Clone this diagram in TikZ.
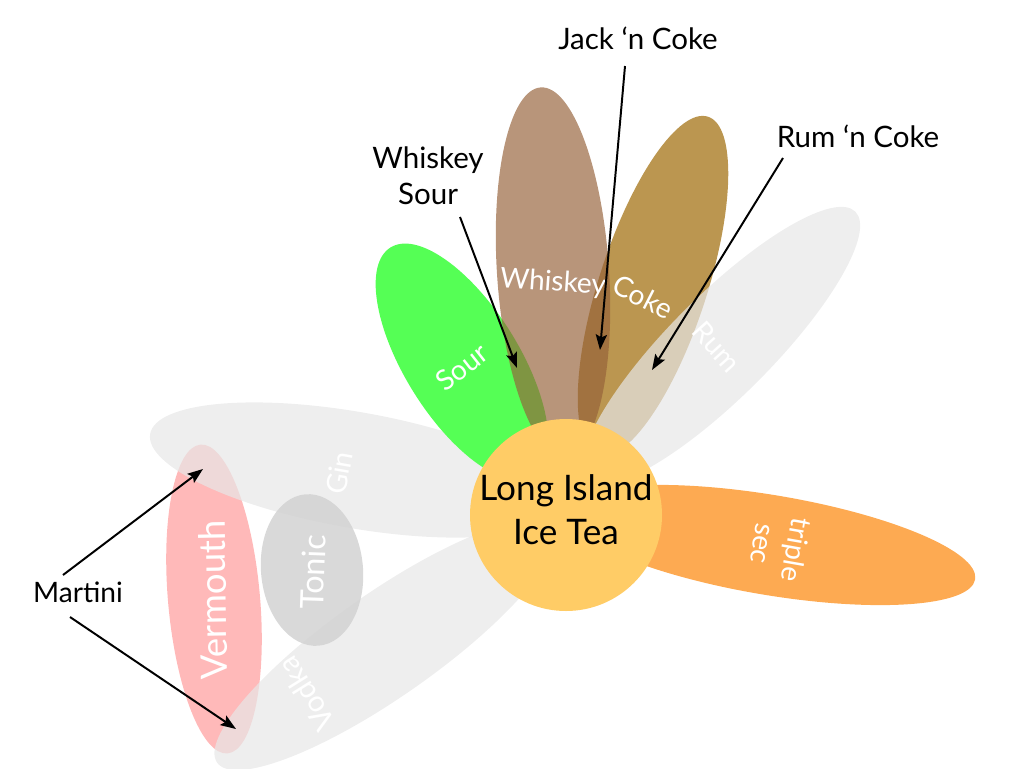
\documentclass[tikz,border=0pt]{standalone}
\usepackage{fontspec}
\setmainfont{Lato}
\usetikzlibrary{arrows.meta}
\definecolor{sourc}{RGB}{85,255,85}
\definecolor{whiskeyc}{RGB}{149,97,57}
\definecolor{cokec}{RGB}{187,150,80}
\definecolor{greyc}{RGB}{231,231,231}
\definecolor{vermouthc}{RGB}{255,185,185}
\definecolor{tonicc}{RGB}{212,212,212}
\definecolor{triplec}{RGB}{253,170,82}
\definecolor{teac}{RGB}{255,204,102}
\tikzset{
  petal/.style={fill=#1},
  greypetal/.style={fill=greyc, fill opacity=0.7},
  wlabel/.style={text=white, font=\fontsize{20}{24}\selectfont, inner sep=0pt},
  blabel/.style={text=black, font=\fontsize{21}{25.6}\selectfont, align=center, inner sep=0pt},
  pointer/.style={line width=1.4pt, -{Stealth[length=11pt,width=8pt,inset=2pt]}}
}
\begin{document}
\begin{tikzpicture}[x=0.25mm,y=0.25mm]
\useasboundingbox (0,0) rectangle (1024,-768);
% left group
\fill[petal=vermouthc, rotate around={95:(214,-599)}] (214,-599) ellipse [x radius=155, y radius=46];
\fill[greypetal, rotate around={-10:(355,-470)}] (355,-470) ellipse [x radius=208, y radius=58];
\fill[greypetal, rotate around={35:(385,-645)}] (385,-645) ellipse [x radius=205, y radius=52];
\fill[tonicc, fill opacity=0.88, rotate around={95:(312,-570)}] (312,-570) ellipse [x radius=76, y radius=51];
% top group
\fill[petal=sourc, rotate around={122:(462,-362)}] (462,-362) ellipse [x radius=135, y radius=57];
\fill[petal=cokec, rotate around={72:(653,-286)}] (653,-286) ellipse [x radius=178, y radius=54];
\fill[whiskeyc, fill opacity=0.67, rotate around={93.8:(553,-272)}] (553,-272) ellipse [x radius=185, y radius=56];
\fill[greypetal, rotate around={45:(721,-346)}] (721,-346) ellipse [x radius=190, y radius=51];
% right
\fill[petal=triplec, rotate around={-9.5:(770,-545)}] (770,-545) ellipse [x radius=208, y radius=50];
% centre
\fill[teac] (566,-515) circle [radius=96];

% labels inside petals
\node[wlabel, rotate=38] (sour) at (462,-367) {Sour};
\node[wlabel, rotate=-4] (whiskey) at (553,-283) {Whiskey};
\node[wlabel, rotate=-27] (coke) at (643,-297) {Coke};
\node[wlabel, rotate=-48] (rum) at (717,-347) {Rum};
\node[wlabel, rotate=80] (gin) at (339,-473) {Gin};
\node[wlabel, rotate=88, font=\fontsize{23}{26}\selectfont] (tonic) at (313,-572) {Tonic};
\node[wlabel, rotate=91, font=\fontsize{26}{28}\selectfont] (vermouth) at (213,-600) {Vermouth};
\node[wlabel, rotate=122, font=\fontsize{21}{24}\selectfont] (vodka) at (306,-694) {Vodka};
\node[wlabel, rotate=-100, align=center, font=\fontsize{20}{24}\selectfont] (triple) at (780,-547) {triple\\sec};
\node[blabel, font=\fontsize{25}{31.3}\selectfont] (lit) at (566,-510) {Long Island\\Ice Tea};

% outer labels
\node[blabel] (jack) at (638,-38) {Jack ‘n Coke};
\node[blabel] (rumcoke) at (858,-136) {Rum ‘n Coke};
\node[blabel] (wsour) at (428,-176) {Whiskey\\Sour};
\node[blabel, font=\fontsize{20}{24}\selectfont] (martini) at (78,-592) {Martini};

% pointer ends
\coordinate (jackS) at (625,-66);
\coordinate (jackT) at (600,-350);
\coordinate (rumS) at (783,-158);
\coordinate (rumT) at (652,-370);
\coordinate (wsS) at (460,-217);
\coordinate (wsT) at (517,-368);
\coordinate (mUS) at (63,-575);
\coordinate (mUT) at (203,-469);
\coordinate (mLS) at (70,-617);
\coordinate (mLT) at (236,-729);
\draw[pointer] (jackS) -- (jackT);
\draw[pointer] (rumS) -- (rumT);
\draw[pointer] (wsS) -- (wsT);
\draw[pointer] (mUS) -- (mUT);
\draw[pointer] (mLS) -- (mLT);
\end{tikzpicture}
\end{document}
